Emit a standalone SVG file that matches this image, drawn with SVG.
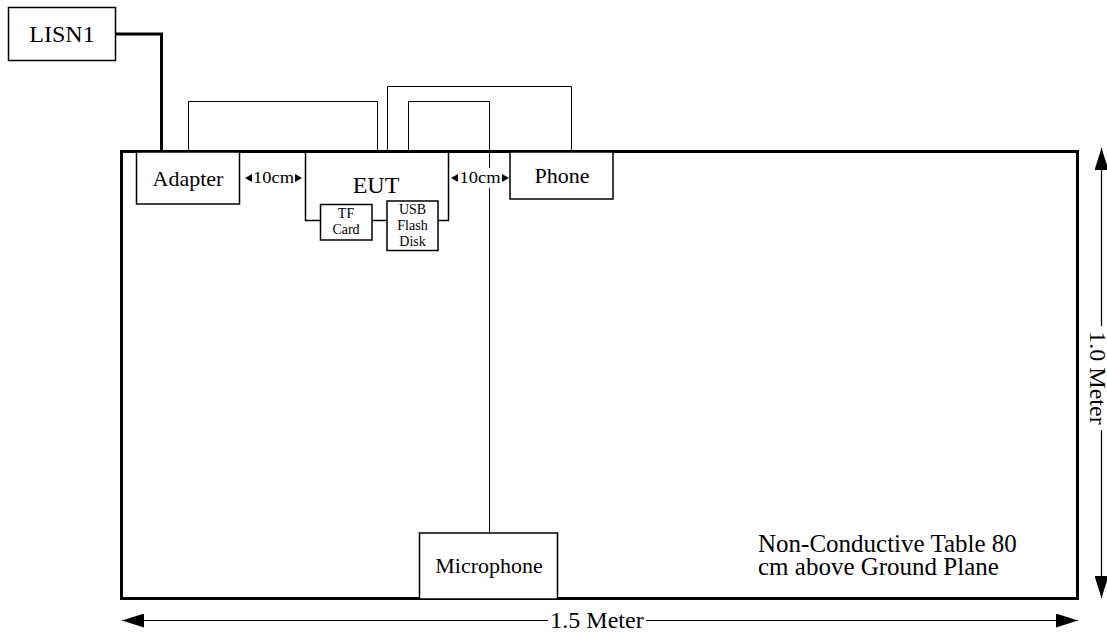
<svg xmlns="http://www.w3.org/2000/svg" width="1107" height="635" viewBox="0 0 1107 635">
<defs>
<style>
text{font-family:"Liberation Serif","Times New Roman",serif;fill:#000}
.box{fill:#fff;stroke:#000;stroke-width:1.5}
.thin{fill:none;stroke:#000;stroke-width:1}
.thick{fill:none;stroke:#000;stroke-width:3}
.dim{fill:none;stroke:#000;stroke-width:1.2}
.m{text-anchor:middle}
</style>
<marker id="ah" viewBox="0 0 22 14" refX="22" refY="7" markerWidth="22" markerHeight="14" markerUnits="userSpaceOnUse" orient="auto-start-reverse">
<path d="M0,0 L22,7 L0,14 Z" fill="#000"/>
</marker>
</defs>
<rect width="1107" height="635" fill="#fff"/>

<g id="table">
<rect x="121.5" y="151.5" width="956" height="447" fill="none" stroke="#000" stroke-width="3"/>
</g>

<g id="connectors">
<polyline class="thick" points="116,34 161.5,34 161.5,152"/>
<polyline class="thin" points="188.5,152 188.5,101.5 377.5,101.5 377.5,152"/>
<polyline class="thin" points="387.5,152 387.5,86.5 571.5,86.5 571.5,152"/>
<polyline class="thin" points="408.5,152 408.5,101.5 489.5,101.5 489.5,533"/>
</g>

<g id="lisn1">
<rect class="box" x="8.5" y="7.5" width="107" height="53"/>
<text class="m" x="62" y="42" font-size="24">LISN1</text>
</g>

<g id="adapter">
<rect class="box" x="136.5" y="152" width="103" height="52"/>
<text class="m" x="188" y="186" font-size="22">Adapter</text>
</g>

<g id="dist1">
<rect x="243" y="168" width="60" height="20" fill="#fff"/>
<polygon points="245,178 252,174 252,182" fill="#000"/>
<text class="m" x="273.5" y="183" font-size="16.5" textLength="41" lengthAdjust="spacingAndGlyphs">10cm</text>
<polygon points="302,178 295,174 295,182" fill="#000"/>
</g>

<g id="eut">
<path d="M305.5,152 V220.5 H320 M372,220.5 H387 M438,220.5 H448.5 V152" fill="none" stroke="#000" stroke-width="1.5"/>
<text class="m" x="376" y="193" font-size="24">EUT</text>
</g>

<g id="tfcard">
<rect class="box" x="320.5" y="204.5" width="51.5" height="35.5"/>
<text class="m" x="346" y="218" font-size="14">TF</text>
<text class="m" x="346" y="234" font-size="14">Card</text>
</g>

<g id="usb">
<rect class="box" x="387" y="201" width="51" height="49.5"/>
<text class="m" x="412.5" y="214" font-size="14">USB</text>
<text class="m" x="412.5" y="230" font-size="14">Flash</text>
<text class="m" x="412.5" y="246" font-size="14">Disk</text>
</g>

<g id="dist2">
<rect x="450" y="168" width="60" height="20" fill="#fff"/>
<polygon points="451,178 458,174 458,182" fill="#000"/>
<text class="m" x="480" y="183" font-size="16.5" textLength="41" lengthAdjust="spacingAndGlyphs">10cm</text>
<polygon points="509,178 502,174 502,182" fill="#000"/>
</g>

<g id="phone">
<rect class="box" x="510" y="152" width="103" height="47"/>
<text class="m" x="562" y="183" font-size="22">Phone</text>
</g>

<g id="microphone">
<rect class="box" x="419.5" y="533" width="138" height="66"/>
<text class="m" x="489" y="573" font-size="22">Microphone</text>
</g>

<g id="note">
<text x="758" y="552" font-size="25">Non-Conductive Table 80</text>
<text x="758" y="575" font-size="25">cm above Ground Plane</text>
</g>

<g id="dimensions">
<line class="dim" x1="548" y1="620.5" x2="122" y2="620.5" marker-end="url(#ah)"/>
<line class="dim" x1="646" y1="620.5" x2="1078" y2="620.5" marker-end="url(#ah)"/>
<text class="m" x="597" y="628" font-size="24">1.5 Meter</text>
<line class="dim" x1="1101.5" y1="326" x2="1101.5" y2="148" marker-end="url(#ah)"/>
<line class="dim" x1="1101.5" y1="430" x2="1101.5" y2="598" marker-end="url(#ah)"/>
<text class="m" transform="translate(1090,378) rotate(90)" font-size="24">1.0 Meter</text>
</g>
</svg>
